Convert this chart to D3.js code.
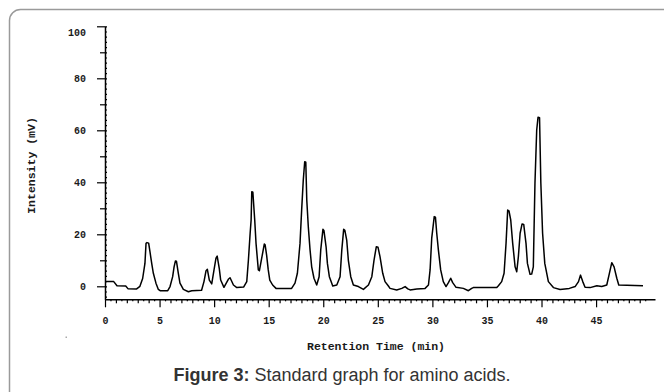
<!DOCTYPE html>
<html>
<head>
<meta charset="utf-8">
<script src="https://cdn.jsdelivr.net/npm/d3@7"></script>
<style>
  body { margin: 0; background: #fff; }
  svg { display: block; }
  .mono { font-family: 'Liberation Mono', 'Courier New', monospace; font-weight: bold; fill: #1a1a1a; }
</style>
</head>
<body>
<svg id="chart"></svg>
<script>
// retention time (min) and detector signal (mV)
const retentionTime = [
  0, 0.8, 1.1, 1.9, 2.1, 2.9, 3.2, 3.45, 3.66, 3.76, 3.85, 4.0, 4.12, 4.28, 4.43, 4.67, 4.89, 5.05, 5.75, 5.96,
  6.2, 6.33, 6.45, 6.55, 6.72, 6.87, 7.18, 7.64, 7.95, 8.85, 9.07, 9.26, 9.38, 9.56, 9.78, 9.99, 10.17, 10.28, 10.47, 10.6,
  10.9, 11.3, 11.46, 11.77, 12.08, 12.7, 12.99, 13.14, 13.3, 13.39, 13.45, 13.55, 13.72, 13.84, 14.05, 14.15, 14.36, 14.6, 14.67, 14.81,
  14.96, 15.1, 15.36, 15.67, 17.1, 17.41, 17.63, 17.87, 18.02, 18.17, 18.3, 18.4, 18.49, 18.63, 18.79, 18.94, 19.15, 19.4, 19.62, 19.77,
  19.97, 20.06, 20.26, 20.38, 20.56, 20.87, 21.24, 21.54, 21.7, 21.87, 21.98, 22.15, 22.3, 22.52, 22.76, 23.22, 23.68, 24.14, 24.45, 24.65,
  24.86, 25.02, 25.2, 25.45, 25.66, 25.97, 26.12, 26.73, 27.2, 27.5, 27.75, 27.96, 28.57, 29.33, 29.64, 29.79, 29.94, 30.17, 30.28, 30.4,
  30.55, 30.76, 31.0, 31.25, 31.47, 31.68, 31.86, 32.17, 32.84, 33.3, 33.6, 33.75, 35.9, 36.05, 36.35, 36.57, 36.75, 36.9, 37.02, 37.18,
  37.36, 37.58, 37.73, 37.88, 38.04, 38.22, 38.37, 38.58, 38.71, 38.95, 39.1, 39.25, 39.4, 39.56, 39.68, 39.82, 39.94, 40.1, 40.3, 40.63,
  41.09, 41.7, 42.55, 43.08, 43.39, 43.57, 43.78, 43.99, 44.45, 45.07, 45.52, 45.98, 46.22, 46.44, 46.65, 46.9, 47.08, 49.3
]
const intensity = [
  1.8, 1.8, 0.2, 0.1, -0.9, -1, 0, 3, 8.8, 16.5, 16.8, 16.6, 13.3, 8.8, 5, 1.2, -1.2, -1.7, -1.7, -0.1,
  3.7, 7.5, 9.7, 9.6, 5, 1.2, -1.2, -2.1, -1.7, -1.5, 1.8, 6, 6.5, 2.4, 0.9, 6.3, 10.8, 11.6, 6.9, 2.4,
  -0.4, 2.7, 3.3, 0.5, -0.5, -0.3, 1.8, 10, 20.4, 25.5, 36.4, 36.2, 25.5, 16.5, 6.3, 6, 10.8, 16.3, 16, 12,
  6.3, 2.4, 0.5, -0.8, -0.8, 1.2, 5, 16.5, 29.3, 40.9, 47.9, 47.7, 33.2, 22.9, 14, 7.5, 3.1, 0.5, 3.7, 14,
  21.9, 21.5, 15.2, 8.8, 3.7, 0.1, 0.5, 3.7, 14, 21.9, 21.5, 17.8, 10, 3.7, 0.5, -0.1, -1.2, 0.5, 3.7, 10,
  15.2, 15, 11.4, 5, 1.8, 0.1, -0.8, -1.4, -0.8, -0.1, -1, -1.4, -1, -0.8, 0.5, 6.3, 18.5, 26.8, 26.6, 20.4,
  14, 6.3, 1.8, -0.1, 1.4, 3.1, 1.4, -0.4, -0.8, -1.7, -0.8, -0.5, -0.5, 0.2, 1.8, 5, 16.5, 29.3, 29, 25.5,
  16.5, 7.5, 5.6, 11.4, 20.4, 24, 23.8, 16.5, 8.8, 4.6, 4.7, 7.5, 39.6, 60.1, 65, 64.8, 39.6, 20.4, 8.8, 1.8,
  -0.5, -1.2, -0.8, -0.1, 1.8, 4.3, 1.8, -0.4, -0.5, 0.2, -0.1, 0.5, 5, 9.1, 7.5, 3.1, 0.5, 0.2
]
const xTickLabels = [0, 5, 10, 15, 20, 25, 30, 35, 40, 45]
const yTickLabels = [0, 20, 40, 60, 80, 100]
const xTitle = 'Retention Time (min)'
const yTitle = 'Intensity (mV)'
const caption = ['Figure 3:', ' Standard graph for amino acids.']

const W = 664
const H = 392

const svg = d3.select('#chart').attr('width', W).attr('height', H)

// rounded frame, running off the right and bottom edges
svg.append('rect')
  .attr('x', 9.5).attr('y', 9.5)
  .attr('width', W + 20).attr('height', H + 20)
  .attr('rx', 11)
  .attr('fill', 'none')
  .attr('stroke', '#9a9a9a')
  .attr('stroke-width', 1.5)

svg.append('rect')
  .attr('x', 65.5).attr('y', 336.5).attr('width', 1.5).attr('height', 1.5)
  .attr('fill', '#aaa')

const x = d3.scaleLinear().domain([0, 50.4]).range([105, 655])
const y = d3.scaleLinear().domain([-5, 100]).range([299.3, 26.3])

const styleAxis = (g) => {
  g.select('.domain').attr('stroke', '#000').attr('stroke-width', 1.5)
  g.selectAll('.tick line').attr('stroke', '#000').attr('stroke-width', 1.2)
  g.selectAll('.tick text').attr('class', 'mono').style('font-size', '10px')
}

// x axis: half-minute, minute and five-minute ticks
const halfMin = d3.range(0.5, 50.01, 1)
const fullMin = d3.range(1, 50.01, 1).filter((d) => d % 5 !== 0)

svg.append('g')
  .attr('transform', `translate(0,${y(-5)})`)
  .call(d3.axisBottom(x).tickValues(halfMin).tickSize(2).tickSizeOuter(0).tickFormat(''))
  .call((g) => g.select('.domain').remove())
  .call(styleAxis)

svg.append('g')
  .attr('transform', `translate(0,${y(-5)})`)
  .call(d3.axisBottom(x).tickValues(fullMin).tickSize(4).tickSizeOuter(0).tickFormat(''))
  .call((g) => g.select('.domain').remove())
  .call(styleAxis)

svg.append('g')
  .attr('transform', `translate(0,${y(-5)})`)
  .call(d3.axisBottom(x).tickValues(xTickLabels).tickSize(8).tickSizeOuter(0).tickPadding(10))
  .call(styleAxis)

// y axis: small inner ticks every 2, medium every 10, labelled every 20
svg.append('g')
  .attr('transform', `translate(${x(0)},0)`)
  .call(d3.axisLeft(y).tickValues(d3.range(-4, 100.01, 2)).tickSize(-2).tickSizeOuter(0).tickFormat(''))
  .call((g) => g.select('.domain').remove())
  .call(styleAxis)

svg.append('g')
  .attr('transform', `translate(${x(0)},0)`)
  .call(d3.axisLeft(y).tickValues(d3.range(10, 100, 20)).tickSize(5).tickSizeOuter(0).tickFormat(''))
  .call((g) => g.select('.domain').remove())
  .call(styleAxis)

svg.append('g')
  .attr('transform', `translate(${x(0)},0)`)
  .call(d3.axisLeft(y).tickValues(yTickLabels).tickSize(8).tickSizeOuter(0).tickPadding(11))
  .call(styleAxis)
  .call((g) => g.selectAll('.tick text').attr('dy', (d) => (d === 100 ? '0.95em' : '0.32em')))

// axis titles
svg.append('text')
  .attr('class', 'mono')
  .attr('x', 376)
  .attr('y', 350)
  .attr('text-anchor', 'middle')
  .style('font-size', '11.5px')
  .text(xTitle)

svg.append('text')
  .attr('class', 'mono')
  .attr('transform', 'translate(35,165.5) rotate(-90)')
  .attr('text-anchor', 'middle')
  .style('font-size', '11.5px')
  .text(yTitle)

// chromatogram trace
const line = d3.line()
  .x((d, i) => x(retentionTime[i]))
  .y((d) => y(d))

svg.append('path')
  .datum(intensity)
  .attr('fill', 'none')
  .attr('stroke', '#000')
  .attr('stroke-width', 1.5)
  .attr('stroke-linejoin', 'round')
  .attr('d', line)

// caption
const cap = svg.append('text')
  .attr('x', 342)
  .attr('y', 381)
  .attr('text-anchor', 'middle')
  .style('font-family', "'Liberation Sans', Arial, sans-serif")
  .style('font-size', '18px')
  .style('fill', '#333')

cap.append('tspan').style('font-weight', 'bold').text(caption[0])
cap.append('tspan').text(caption[1])
</script>
</body>
</html>
